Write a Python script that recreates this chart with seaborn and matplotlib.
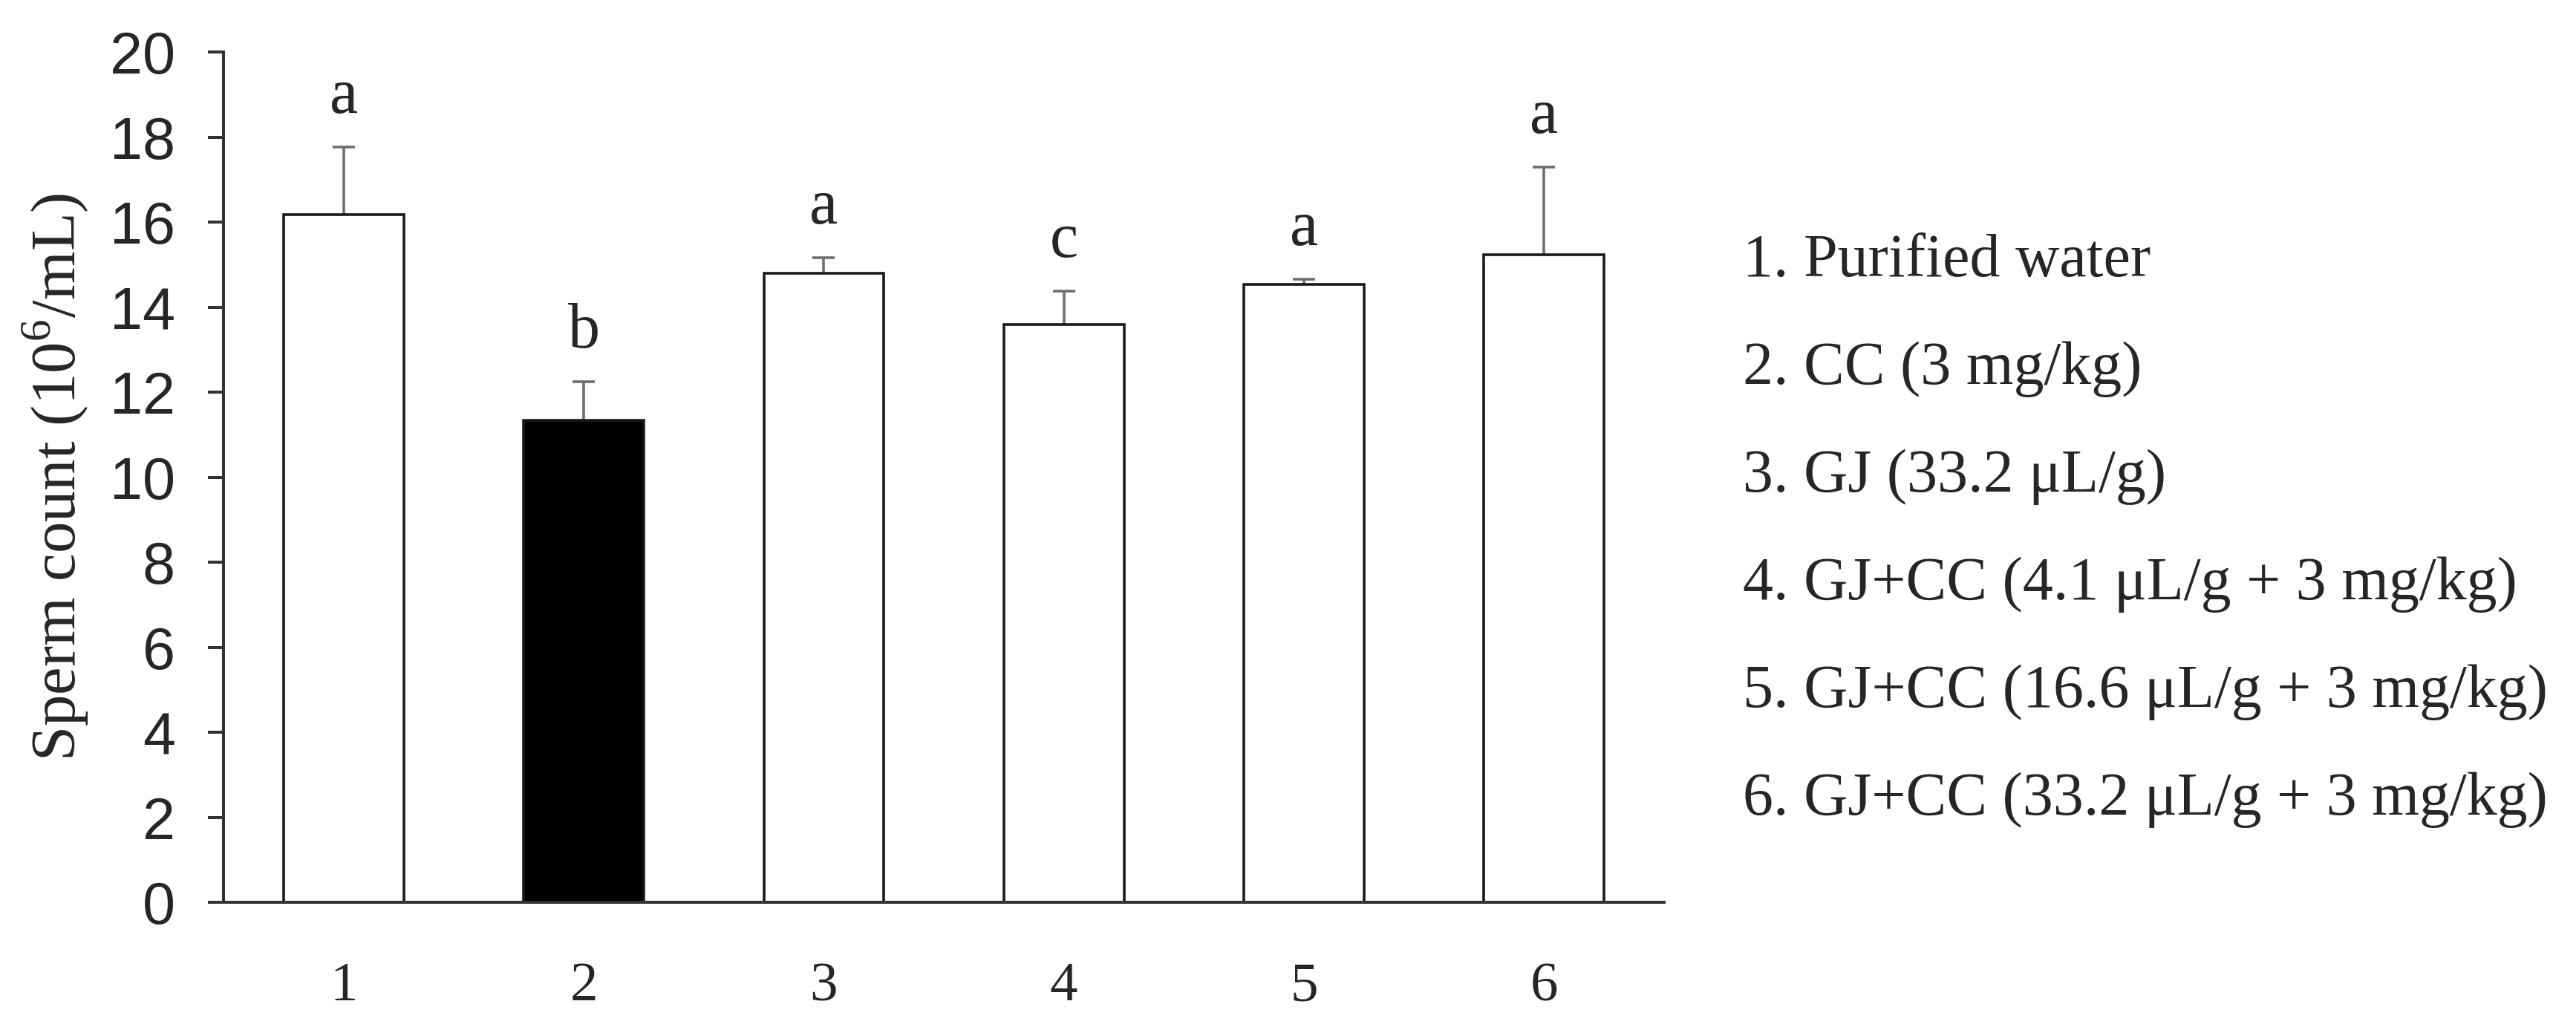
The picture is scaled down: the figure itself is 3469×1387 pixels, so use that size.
import matplotlib
matplotlib.use("Agg")
import matplotlib.pyplot as plt
import seaborn as sns
import pandas as pd

# values
groups = ["1", "2", "3", "4", "5", "6"]
means = [16.18, 11.34, 14.79, 13.59, 14.53, 15.24]
sds = [1.58, 0.91, 0.38, 0.79, 0.13, 2.06]
letters = ["a", "b", "a", "c", "a", "a"]
bar_colors = ["white", "black", "white", "white", "white", "white"]
legend_labels = [
    "1. Purified water",
    "2. CC (3 mg/kg)",
    "3. GJ (33.2 \u03bcL/g)",
    "4. GJ+CC (4.1 \u03bcL/g + 3 mg/kg)",
    "5. GJ+CC (16.6 \u03bcL/g + 3 mg/kg)",
    "6. GJ+CC (33.2 \u03bcL/g + 3 mg/kg)",
]

df = pd.DataFrame({"group": groups, "mean": means, "sd": sds})

sns.set_style("ticks")
plt.rcParams["font.family"] = ["Liberation Sans", "DejaVu Sans"]
plt.rcParams["mathtext.fontset"] = "custom"
plt.rcParams["mathtext.rm"] = "Liberation Serif"

serif = ["Liberation Serif", "DejaVu Serif"]

fig = plt.figure(figsize=(34.69, 13.87), dpi=100)
ax = fig.add_axes([0.0868, 0.124, 0.5592, 0.8255])

# error bars drawn under the bars so only the upper half shows
ax.errorbar(range(len(groups)), df["mean"], yerr=df["sd"], fmt="none",
            ecolor="#6e6e6e", elinewidth=2.6, capsize=10.5, capthick=2.6, zorder=1)

sns.barplot(data=df, x="group", y="mean", hue="group", palette=bar_colors,
            legend=False, width=0.5, edgecolor="#1a1a1a", linewidth=2.6,
            errorbar=None, ax=ax, zorder=2)
for p in ax.patches:
    p.set_zorder(2)

for i, (m, s, l) in enumerate(zip(means, sds, letters)):
    ax.text(i, m + s + 0.8, l, ha="center", va="baseline", fontsize=62,
            family=serif)

ax.set_xlim(-0.5, 5.5)
ax.set_ylim(0, 20)
ax.set_yticks(range(0, 21, 2))
ax.set_xlabel("")
ax.set_ylabel("Sperm count (10$^6$/mL)", fontsize=61, family=serif)
ax.yaxis.set_label_coords(-0.093, 0.5)

sns.despine(ax=ax)
for side in ["left", "bottom"]:
    ax.spines[side].set_linewidth(2.9)
    ax.spines[side].set_color("#333333")
ax.tick_params(axis="y", length=15, width=2.9, color="#333333", pad=32, labelsize=57)
ax.tick_params(axis="x", length=0, pad=58, labelsize=54)
for t in ax.get_xticklabels():
    t.set_family(serif)

for i, txt in enumerate(legend_labels):
    y = 1 - (372 + i * 145) / 1387
    fig.text(0.6766, y, txt, ha="left", va="baseline", fontsize=59, family=serif)

fig.savefig("out.png", dpi=100, facecolor="white")
